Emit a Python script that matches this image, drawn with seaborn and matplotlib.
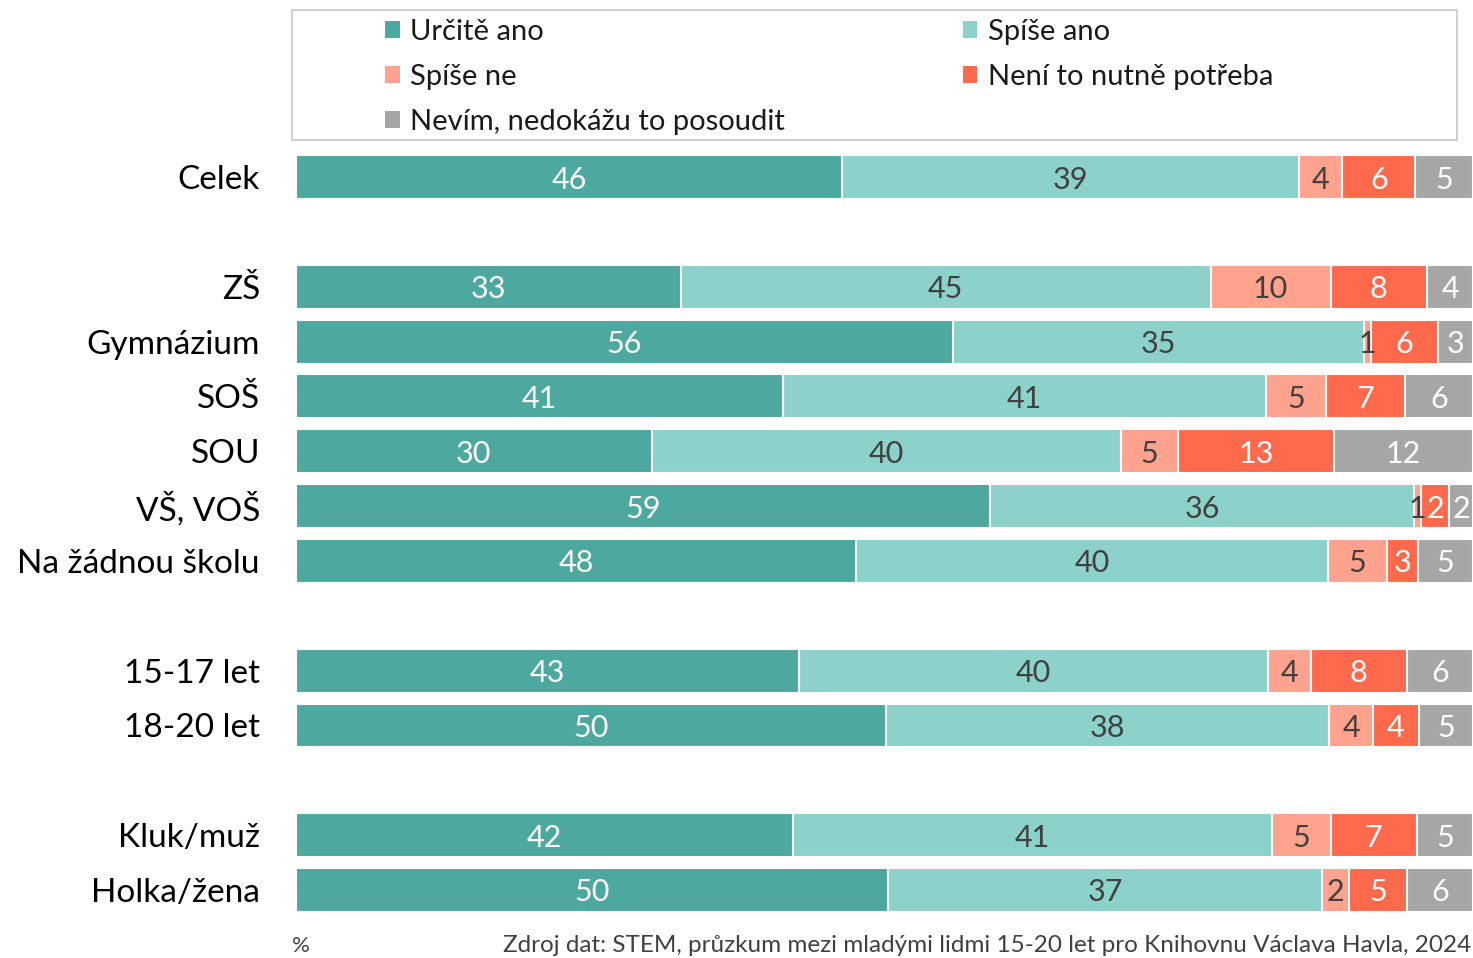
import numpy as np
import pandas as pd
import matplotlib.pyplot as plt
import seaborn as sns
from matplotlib.patches import Patch, Rectangle

# data
groups = [
    ["Celek"],
    ["ZŠ", "Gymnázium", "SOŠ", "SOU", "VŠ, VOŠ", "Na žádnou školu"],
    ["15-17 let", "18-20 let"],
    ["Kluk/muž", "Holka/žena"],
]
categories = ["Určitě ano", "Spíše ano", "Spíše ne", "Není to nutně potřeba", "Nevím, nedokážu to posoudit"]
urcite_ano = [46.4, 32.7, 55.8, 41.4, 30.2, 59.0, 47.6, 42.7, 50.1, 42.2, 50.3]
spise_ano = [38.8, 45.0, 34.9, 41.0, 39.9, 36.0, 40.1, 39.9, 37.7, 40.7, 36.9]
spise_ne = [3.7, 10.2, 0.6, 5.1, 4.8, 0.6, 5.0, 3.6, 3.7, 5.0, 2.3]
neni = [6.2, 8.2, 5.7, 6.7, 13.3, 2.4, 2.6, 8.2, 3.9, 7.3, 4.9]
nevim = [4.9, 3.9, 3.0, 5.8, 11.8, 2.0, 4.7, 5.6, 4.6, 4.8, 5.6]

colors = ["#4da8a0", "#8cd2ca", "#ffa28e", "#ff6a4d", "#a6a6a6"]
text_colors = ["white", "#404040", "#404040", "white", "white"]

sns.set_theme(style="white")
plt.rcParams["font.family"] = ["Lato", "DejaVu Sans"]

# row positions with a blank row between groups
labels, pos = [], []
p = 0
for g in groups:
    for name in g:
        labels.append(name)
        pos.append(p)
        p += 1
    p += 1
pos = np.array(pos, dtype=float)

vals = np.array([urcite_ano, spise_ano, spise_ne, neni, nevim])
cum = vals.cumsum(axis=0)

fig = plt.figure(figsize=(14.73, 9.58), dpi=100)
ax = fig.add_axes([0.201, 0.0424, 0.799, 0.8014])

# draw cumulative bars back to front so they look stacked
for i in range(len(categories) - 1, -1, -1):
    df = pd.DataFrame({"x": cum[i], "y": pos})
    sns.barplot(data=df, x="x", y="y", orient="h", native_scale=True,
                color=colors[i], saturation=1, width=0.8,
                edgecolor="white", linewidth=1.5, ax=ax)

for i in range(len(categories)):
    left = cum[i] - vals[i]
    for j in range(len(pos)):
        ax.text(left[j] + vals[i][j] / 2, pos[j], f"{round(vals[i][j])}",
                ha="center", va="center_baseline", fontsize=22, color=text_colors[i])

ax.set_xlim(0, 100)
ax.set_ylim(pos[-1] + 0.5, -0.5)
ax.set_yticks(pos)
ax.set_yticklabels(labels, fontsize=24, color="black")
ax.tick_params(axis="y", length=0, pad=26)
ax.set_xticks([])
ax.set_xlabel("")
ax.set_ylabel("")
sns.despine(ax=ax, left=True, bottom=True)

# legend filled row by row like the original
order = [0, 2, 4, 1, 3]
handles = [Patch(facecolor=colors[k], edgecolor="none") for k in order]
fig.legend(handles, [categories[k] for k in order], loc="upper left",
           bbox_to_anchor=(0.2437, 1.008), ncol=2, frameon=False, fontsize=21,
           labelcolor="#1a1a1a", handlelength=0.5, handleheight=0.5, handletextpad=0.35,
           columnspacing=6.1, labelspacing=0.66)
fig.patches.append(Rectangle((292 / 1473, 1 - 140 / 958), (1457 - 292) / 1473, 130 / 958,
                             transform=fig.transFigure, fill=False,
                             edgecolor="#c8c8c8", linewidth=1.2))

fig.text(292 / 1473, 0.002, "%", fontsize=16, color="#404040", ha="left", va="bottom")
fig.text(0.999, 0.002, "Zdroj dat: STEM, průzkum mezi mladými lidmi 15-20 let pro Knihovnu Václava Havla, 2024",
         fontsize=17.5, color="#404040", ha="right", va="bottom")

fig.savefig("out.png", dpi=100)
